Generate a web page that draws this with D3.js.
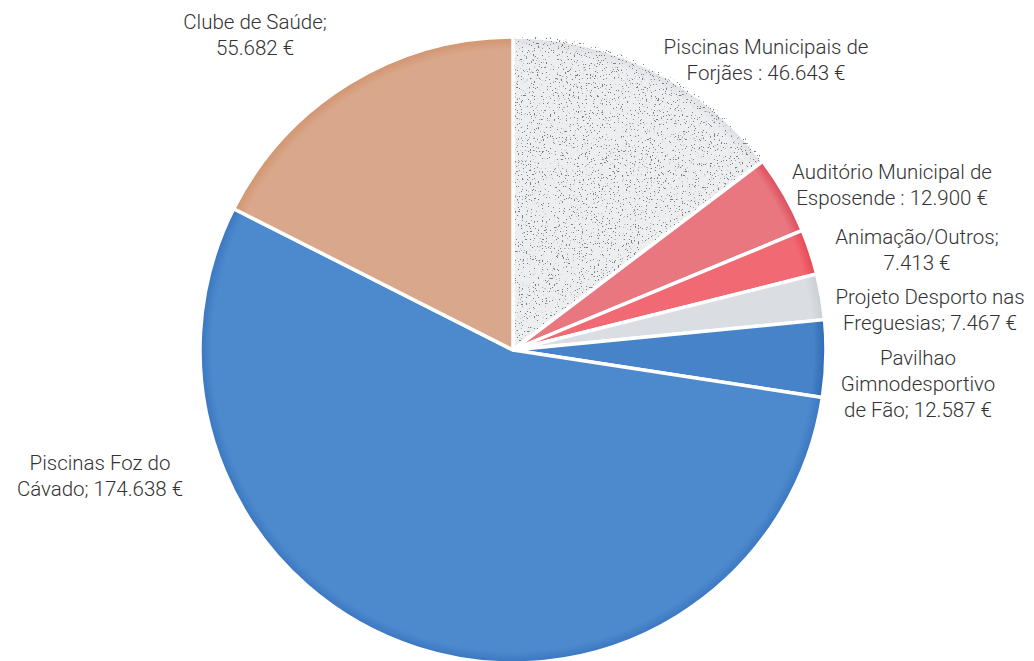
<!DOCTYPE html>
<html>
<head>
<meta charset="utf-8">
<script src="https://cdn.jsdelivr.net/npm/d3@7"></script>
<style>
  body { margin: 0; background: #fff; }
  text { font-family: Roboto, "Liberation Sans", Arial, sans-serif; font-weight: 300; font-size: 20.5px; fill: #333; }
</style>
</head>
<body>
<div id="chart"></div>
<script>
// data, clockwise from 12 o'clock
var categories = ["Piscinas Municipais de Forjães", "Auditório Municipal de Esposende",
  "Animação/Outros", "Projeto Desporto nas Freguesias", "Pavilhao Gimnodesportivo de Fão",
  "Piscinas Foz do Cávado", "Clube de Saúde"];
var values = [46643, 12900, 7413, 7467, 12587, 174638, 55682];
var labelLines = [
  ["Piscinas Municipais de", "Forjães : 46.643 €"],
  ["Auditório Municipal de", "Esposende : 12.900 €"],
  ["Animação/Outros;", "7.413 €"],
  ["Projeto Desporto nas", "Freguesias; 7.467 €"],
  ["Pavilhao", "Gimnodesportivo", "de Fão; 12.587 €"],
  ["Piscinas Foz do", "Cávado; 174.638 €"],
  ["Clube de Saúde;", "55.682 €"]
];

// styling
var inner = ["#eceef0", "#e87780", "#f16a73", "#dadde1", "#4683c8", "#4d8acd", "#d9a78b"];
var outer = ["#dde0e4", "#dc4a59", "#e64552", "#c9ccd1", "#3069b3", "#3a76c0", "#d2946e"];
// label anchor (centre x, first baseline y)
var labelPos = [[766, 54], [892, 179], [917, 244], [930, 304], [918, 365], [100, 470], [255, 29]];

var width = 1034, height = 661;
var cx = 513, cy = 350, radius = 313;

var svg = d3.select("#chart").append("svg")
  .attr("width", width).attr("height", height);

var defs = svg.append("defs");
inner.forEach(function (c, i) {
  var g = defs.append("radialGradient")
    .attr("id", "grad" + i)
    .attr("gradientUnits", "userSpaceOnUse")
    .attr("cx", 0).attr("cy", 0).attr("r", radius);
  g.append("stop").attr("offset", "0.5").attr("stop-color", c);
  g.append("stop").attr("offset", "0.96").attr("stop-color", c);
  g.append("stop").attr("offset", "1").attr("stop-color", outer[i]);
});

// speckled texture for the Forjães slice
var f = defs.append("filter").attr("id", "speckle")
  .attr("x", 0).attr("y", 0).attr("width", 1).attr("height", 1);
f.append("feTurbulence").attr("type", "fractalNoise")
  .attr("baseFrequency", 0.75).attr("numOctaves", 2).attr("seed", 4).attr("result", "noise");
f.append("feColorMatrix").attr("in", "noise").attr("type", "matrix")
  .attr("values", "0 0 0 0 0.2  0 0 0 0 0.2  0 0 0 0 0.2  16 0 0 0 -10.4")
  .attr("result", "dots");
f.append("feComposite").attr("in", "dots").attr("in2", "SourceGraphic")
  .attr("operator", "in").attr("result", "dotsIn");
var merge = f.append("feMerge");
merge.append("feMergeNode").attr("in", "SourceGraphic");
merge.append("feMergeNode").attr("in", "dotsIn");

var pie = d3.pie().sort(null).value(function (d) { return d; });
var arc = d3.arc().innerRadius(0).outerRadius(radius);
var arcs = pie(values);

var g = svg.append("g").attr("transform", "translate(" + cx + "," + cy + ")");
g.selectAll("path.slice")
  .data(arcs)
  .enter()
  .append("path")
  .attr("class", "slice")
  .attr("d", arc)
  .attr("fill", function (d, i) { return "url(#grad" + i + ")"; })
  .attr("filter", function (d, i) { return i === 0 ? "url(#speckle)" : null; })
  .attr("stroke", "#fff")
  .attr("stroke-width", 3.5)
  .attr("stroke-linejoin", "round");

var labels = svg.selectAll("text.lbl")
  .data(labelLines)
  .enter()
  .append("text")
  .attr("class", "lbl")
  .attr("text-anchor", "middle")
  .attr("x", function (d, i) { return labelPos[i][0]; })
  .attr("y", function (d, i) { return labelPos[i][1]; });

labels.each(function (lines, i) {
  var t = d3.select(this);
  lines.forEach(function (line, j) {
    t.append("tspan")
      .attr("x", labelPos[i][0])
      .attr("dy", j === 0 ? 0 : 26)
      .text(line);
  });
});
</script>
</body>
</html>
